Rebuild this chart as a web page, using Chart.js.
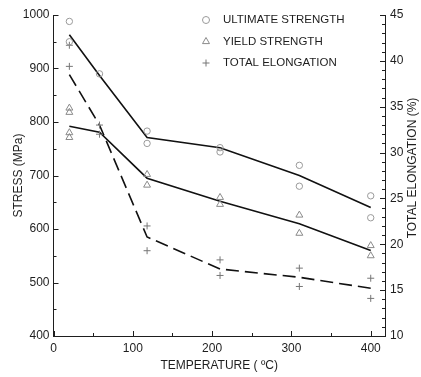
<!DOCTYPE html>
<html>
<head>
<meta charset="utf-8">
<script src="https://cdn.jsdelivr.net/npm/chart.js@4.4.0/dist/chart.umd.min.js"></script>
<style>
  html, body { margin: 0; padding: 0; background: #fff; }
  #wrap { width: 421px; height: 377px; }
</style>
</head>
<body>
<div id="wrap"><canvas id="tensileChart"></canvas></div>
<script>
// Fitted trend lines (temperature in deg C)
const fitTemps = [20, 58, 118, 210, 310, 400];
const ultimateFit = [963, 887, 771, 752, 700, 640];
const yieldFit = [792, 781, 695, 652, 610, 560];
const elongFit = [38.5, 33, 20.8, 17.3, 16.4, 15.2];

// Measured points
const ultTemps = [20, 20, 58, 118, 118, 210, 210, 310, 310, 400, 400];
const ultVals = [988, 950, 890, 783, 760, 752, 744, 719, 680, 662, 621];
const yieldTemps = [20, 20, 20, 20, 118, 118, 210, 210, 310, 310, 400, 400];
const yieldVals = [826, 818, 780, 771, 702, 682, 659, 646, 626, 592, 569, 550];
const elongTemps = [20, 20, 58, 58, 118, 118, 210, 210, 310, 310, 400, 400];
const elongVals = [41.7, 39.4, 33.0, 32.0, 22.0, 19.3, 18.3, 16.6, 17.4, 15.4, 16.3, 14.1];

// Axis tick values (major + minor)
const tempTicks = [0, 50, 100, 150, 200, 250, 300, 350, 400];

const legendLabels = ['ULTIMATE STRENGTH', 'YIELD STRENGTH', 'TOTAL ELONGATION'];
const rightTitle = 'TOTAL ELONGATION (%)';

const FONT = "'Liberation Sans', Arial, Helvetica, sans-serif";
const INK = '#1e1e1e';

function pts(xs, ys) {
    return xs.map((x, i) => ({ x: x, y: ys[i] }));
}

// draw a marker by hand (used for the legend)
function marker(ctx, style, x, y, r, color) {
    ctx.save();
    ctx.strokeStyle = color;
    ctx.lineWidth = 1;
    ctx.beginPath();
    if (style === 'circle') {
        ctx.arc(x, y, r, 0, Math.PI * 2);
    } else if (style === 'triangle') {
        ctx.moveTo(x, y - r * 1.15);
        ctx.lineTo(x + r, y + r * 0.6);
        ctx.lineTo(x - r, y + r * 0.6);
        ctx.closePath();
    } else {
        ctx.moveTo(x - r, y); ctx.lineTo(x + r, y);
        ctx.moveTo(x, y - r); ctx.lineTo(x, y + r);
    }
    ctx.stroke();
    ctx.restore();
}

// inward tick marks, legend and right axis title
const extras = {
    id: 'extras',
    afterDraw(chart) {
        const ctx = chart.ctx;
        const area = chart.chartArea;
        const sx = chart.scales.x, sy = chart.scales.y, sy2 = chart.scales.y2;
        ctx.save();
        ctx.strokeStyle = INK;
        ctx.lineWidth = 1;
        ctx.beginPath();
        sx.ticks.forEach(t => {
            const px = Math.round(sx.getPixelForValue(t.value)) + 0.5;
            const len = t.value % 100 === 0 ? 5 : 3;
            ctx.moveTo(px, area.bottom); ctx.lineTo(px, area.bottom - len);
        });
        sy.ticks.forEach(t => {
            const py = Math.round(sy.getPixelForValue(t.value)) + 0.5;
            const len = t.value % 100 === 0 ? 5 : 3;
            ctx.moveTo(area.left, py); ctx.lineTo(area.left + len, py);
        });
        sy2.ticks.forEach(t => {
            const py = Math.round(sy2.getPixelForValue(t.value)) + 0.5;
            const len = t.value % 5 === 0 ? 5 : 3;
            ctx.moveTo(area.right, py); ctx.lineTo(area.right - len, py);
        });
        ctx.stroke();

        // legend
        const sets = chart.data.datasets.filter(d => d.legendStyle);
        ctx.font = '11.5px ' + FONT;
        ctx.fillStyle = INK;
        ctx.textBaseline = 'middle';
        sets.forEach((d, i) => {
            const y = 20 + i * 21.5;
            marker(ctx, d.legendStyle, 206, y, 3.5, d.borderColor);
            ctx.fillText(legendLabels[i], 223, y);
        });

        // right axis title, reading bottom to top
        ctx.translate(413, 168);
        ctx.rotate(-Math.PI / 2);
        ctx.font = '12px ' + FONT;
        ctx.textAlign = 'center';
        ctx.fillText(rightTitle, 0, 0);
        ctx.restore();
    }
};

const ctx = document.getElementById('tensileChart').getContext('2d');
const tensileChart = new Chart(ctx, {
    type: 'scatter',
    data: {
        datasets: [
            {
                label: legendLabels[0], legendStyle: 'circle',
                data: pts(ultTemps, ultVals), yAxisID: 'y',
                pointStyle: 'circle', pointRadius: 3.2, borderWidth: 1,
                borderColor: '#9a9a9a', backgroundColor: 'transparent'
            },
            {
                label: legendLabels[1], legendStyle: 'triangle',
                data: pts(yieldTemps, yieldVals), yAxisID: 'y',
                pointStyle: 'triangle', pointRadius: 4, borderWidth: 1,
                borderColor: '#8a8a8a', backgroundColor: 'transparent'
            },
            {
                label: legendLabels[2], legendStyle: 'cross',
                data: pts(elongTemps, elongVals), yAxisID: 'y2',
                pointStyle: 'cross', pointRadius: 3.5, borderWidth: 1,
                borderColor: '#777777', backgroundColor: 'transparent'
            },
            {
                label: 'ultimate fit', data: pts(fitTemps, ultimateFit), yAxisID: 'y',
                showLine: true, pointRadius: 0, borderColor: '#111', borderWidth: 1.6, tension: 0
            },
            {
                label: 'yield fit', data: pts(fitTemps, yieldFit), yAxisID: 'y',
                showLine: true, pointRadius: 0, borderColor: '#111', borderWidth: 1.6, tension: 0
            },
            {
                label: 'elongation fit', data: pts(fitTemps, elongFit), yAxisID: 'y2',
                showLine: true, pointRadius: 0, borderColor: '#111', borderWidth: 1.6,
                borderDash: [13, 6], tension: 0
            }
        ]
    },
    options: {
        responsive: true,
        maintainAspectRatio: false,
        animation: false,
        layout: { padding: { top: 15, right: 0, left: 0, bottom: 0 } },
        plugins: {
            legend: { display: false },
            tooltip: { enabled: false }
        },
        scales: {
            x: {
                type: 'linear', min: 0, max: 418,
                afterBuildTicks: s => { s.ticks = tempTicks.map(v => ({ value: v })); },
                afterFit: s => { s.height = 41; },
                ticks: {
                    autoSkip: false, maxRotation: 0, padding: 5,
                    color: INK, font: { family: FONT, size: 12 },
                    callback: v => (v % 100 === 0 ? v : '')
                },
                grid: { display: false, drawTicks: false },
                border: { display: true, color: INK, width: 1 },
                title: {
                    display: true, text: 'TEMPERATURE ( \u00baC)', color: INK,
                    font: { family: FONT, size: 12 }, padding: { top: 0, bottom: 4 }
                }
            },
            y: {
                type: 'linear', position: 'left', min: 400, max: 1000,
                afterFit: s => { s.width = 53.5; },
                ticks: {
                    stepSize: 50, autoSkip: false, padding: 4,
                    color: INK, font: { family: FONT, size: 12 },
                    callback: v => (v % 100 === 0 ? v : '')
                },
                grid: { display: false, drawTicks: false },
                border: { display: true, color: INK, width: 1 },
                title: {
                    display: true, text: 'STRESS (MPa)', color: INK,
                    font: { family: FONT, size: 12 }, padding: { top: 11, bottom: 0 }
                }
            },
            y2: {
                type: 'linear', position: 'right', min: 10, max: 45,
                afterFit: s => { s.width = 36; },
                ticks: {
                    stepSize: 1, autoSkip: false, padding: 5,
                    color: INK, font: { family: FONT, size: 12 },
                    callback: v => (v % 5 === 0 ? v : '')
                },
                grid: { display: false, drawTicks: false },
                border: { display: true, color: INK, width: 1 }
            }
        }
    },
    plugins: [extras]
});
</script>
</body>
</html>
